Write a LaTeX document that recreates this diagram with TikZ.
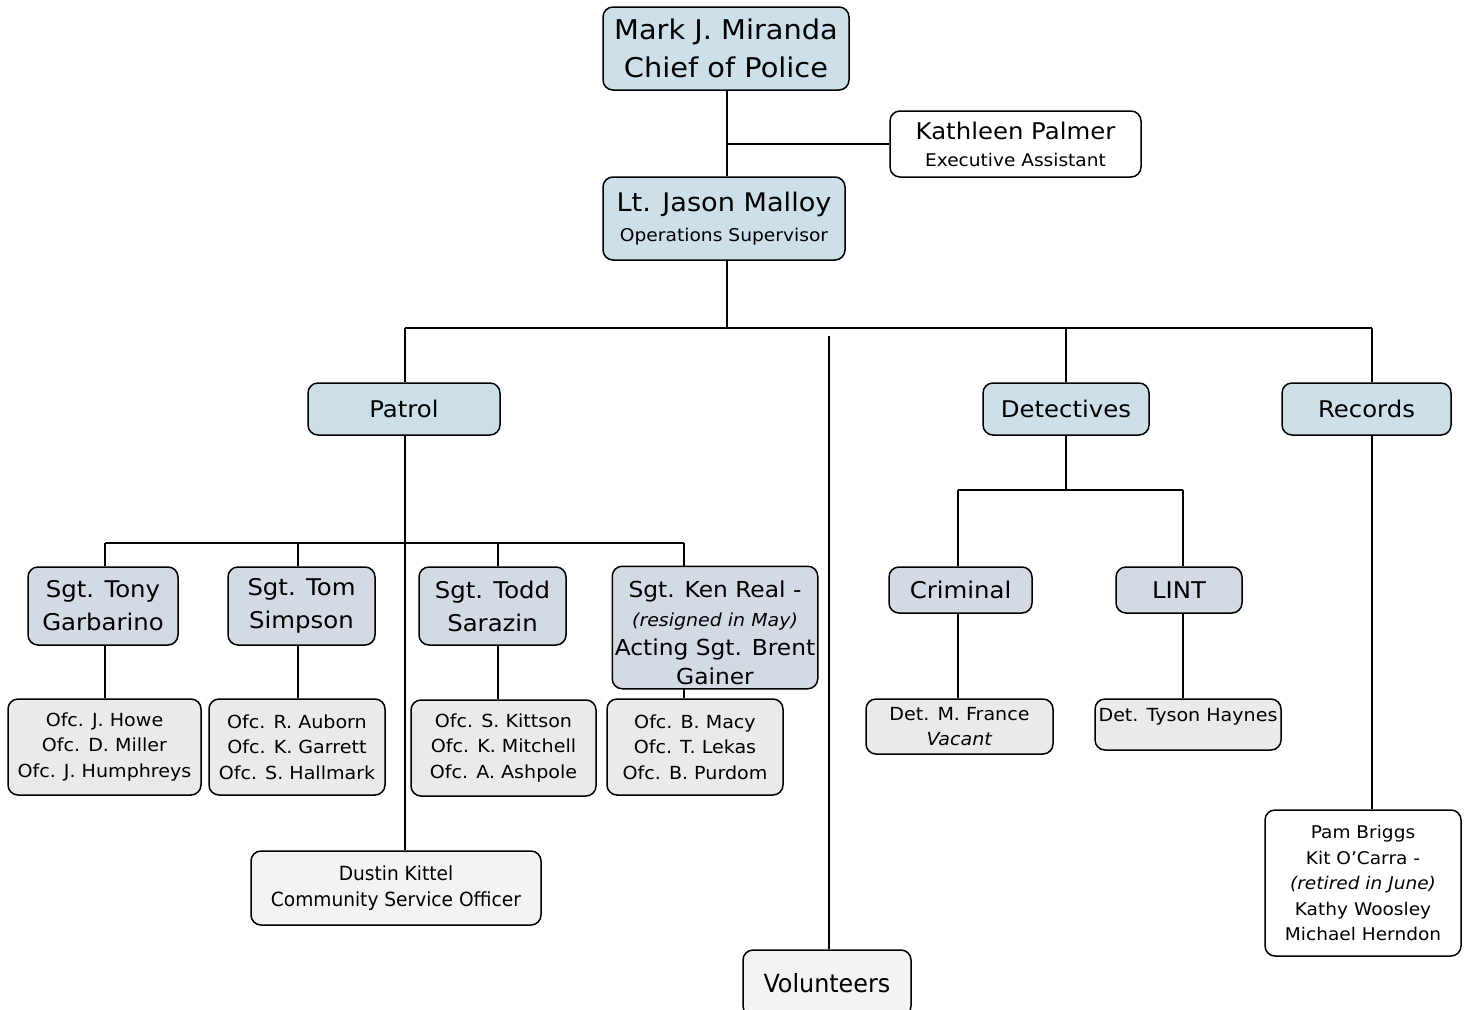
\documentclass[tikz,border=0pt]{standalone}
\usepackage{fontspec}
\setmainfont[FakeStretch=1.06]{DejaVu Sans}
\newfontfamily\condfont[FakeStretch=1.06]{DejaVu Sans Condensed}
\definecolor{topblue}{RGB}{205,223,233}
\definecolor{sgtgrey}{RGB}{211,218,227}
\definecolor{offgrey}{RGB}{234,234,234}
\definecolor{lightgrey}{RGB}{243,243,243}
\tikzset{
  box/.style={draw=black, line width=1.5pt, rounded corners=10pt, inner sep=0pt, align=center, text=black},
  topbox/.style={box, fill=topblue},
  sgtbox/.style={box, fill=sgtgrey},
  offbox/.style={box, fill=offgrey},
  whitebox/.style={box, fill=white},
  lgbox/.style={box, fill=lightgrey},
  wire/.style={line width=1.5pt},
  big/.style={font=\fontsize{27.2}{38}\selectfont},
  mid/.style={font=\fontsize{23}{33}\selectfont},
  small/.style={font=\fontsize{18}{25.5}\selectfont},
}
\begin{document}
\begin{tikzpicture}[x=1pt,y=-1pt]
\useasboundingbox[fill=white] (0,0) rectangle (1466,1009);
% top
\node[topbox, big, minimum width=246, minimum height=83] (chief) at (726,48.5) {Mark J. Miranda\\Chief of Police};
\node[whitebox, font=\fontsize{17.5}{27}\selectfont, minimum width=251, minimum height=66] (kat) at (1015.5,144)
  {{\fontsize{23}{23}\selectfont Kathleen Palmer}\\{\fontsize{17.5}{17.5}\selectfont Executive Assistant}};
\node[topbox, font=\fontsize{17.6}{30}\selectfont, minimum width=242, minimum height=83] (lt) at (724,218.5)
  {{\fontsize{25.6}{25.6}\selectfont Lt. Jason Malloy}\\Operations Supervisor};
% second level
\node[topbox, mid, minimum width=192, minimum height=52] (patrol) at (404,409) {Patrol};
\node[topbox, mid, minimum width=166, minimum height=52] (det) at (1066,409) {Detectives};
\node[topbox, mid, minimum width=169, minimum height=52] (rec) at (1366.5,409) {Records};
% sergeants
\node[sgtbox, mid, minimum width=150, minimum height=78] (tony) at (103,606) {Sgt. Tony\\Garbarino};
\node[sgtbox, mid, minimum width=147, minimum height=78] (tom) at (301.5,606) {Sgt. Tom\\Simpson};
\node[sgtbox, mid, minimum width=147, minimum height=78] (todd) at (492.5,606) {Sgt. Todd\\Sarazin};
\node[sgtbox, draw=none, minimum width=204, minimum height=121] (ken) at (715,627.5) {};
\begin{scope}
\clip[rounded corners=10pt] (ken.north west) rectangle (ken.south east);
\node[align=center, inner sep=0pt, font=\fontsize{22}{29}\selectfont] (kentext) at (715,633)
  {Sgt. Ken Real -\\{\fontsize{17.9}{29}\selectfont\itshape (resigned in May)}\\Acting Sgt. Brent\\Gainer};
\end{scope}
\draw[line width=1.5pt, rounded corners=10pt] (ken.north west) rectangle (ken.south east);
% officers
\node[offbox, small, minimum width=193, minimum height=96] (howe) at (104.5,747) {Ofc. J. Howe\\Ofc. D. Miller\\Ofc. J. Humphreys};
\node[offbox, small, minimum width=176, minimum height=96] (aub) at (297,747) {Ofc. R. Auborn\\Ofc. K. Garrett\\Ofc. S. Hallmark};
\node[offbox, small, minimum width=185, minimum height=96] (kit) at (503.5,748) {Ofc. S. Kittson\\Ofc. K. Mitchell\\Ofc. A. Ashpole};
\node[offbox, small, minimum width=176, minimum height=96] (macy) at (695,747) {Ofc. B. Macy\\Ofc. T. Lekas\\Ofc. B. Purdom};
\node[lgbox, font=\condfont\fontsize{19.5}{26}\selectfont, minimum width=290, minimum height=74] (dustin) at (396,888) {Dustin Kittel\\Community Service Officer};
\node[lgbox, font=\condfont\fontsize{25}{26}\selectfont, minimum width=168, minimum height=66] (vol) at (827,983) {Volunteers};
% detectives
\node[sgtbox, mid, minimum width=143, minimum height=46] (crim) at (960.5,590) {Criminal};
\node[sgtbox, mid, minimum width=126, minimum height=46] (lint) at (1179,590) {LINT};
\node[offbox, small, minimum width=187, minimum height=55] (france) at (959.5,726.5) {Det. M. France\\\textit{Vacant}};
\node[offbox, small, minimum width=186, minimum height=51] (tyson) at (1188,724.5) {Det. Tyson Haynes\\[-7pt]~};
% records
\node[whitebox, font=\fontsize{17.5}{25.5}\selectfont, minimum width=196, minimum height=146] (pam) at (1363,883)
  {Pam Briggs\\Kit O’Carra -\\\textit{(retired in June)}\\Kathy Woosley\\Michael Herndon};
% connector x positions and bars
\coordinate (bar1) at (0,328);
\coordinate (bar2) at (0,543);
\coordinate (bar3) at (0,490);
\coordinate (trunkx) at (727,0);
\coordinate (patx) at (405,0);
\coordinate (tonyx) at (105,0);
\coordinate (tomx) at (298,0);
\coordinate (toddx) at (498,0);
\coordinate (kenx) at (684,0);
\coordinate (crimx) at (958,0);
\coordinate (lintx) at (1183,0);
\coordinate (recx) at (1372,0);
\coordinate (voltop) at (829,336);
% connectors
\draw[wire] (trunkx |- chief.south) -- (trunkx |- lt.north);
\draw[wire] (trunkx |- kat.west) -- (kat.west);
\draw[wire] (trunkx |- lt.south) -- (trunkx |- bar1);
\draw[wire] (patx |- bar1) -- (recx |- bar1);
\draw[wire] (patx |- patrol.north) -- (patx |- bar1);
\draw[wire] (det.north) -- (det.north |- bar1);
\draw[wire] (recx |- rec.north) -- (recx |- bar1);
\draw[wire] (voltop) -- (voltop |- vol.north);
\draw[wire] (patx |- patrol.south) -- (patx |- dustin.north);
\draw[wire] (tonyx |- bar2) -- (kenx |- bar2);
\draw[wire] (tonyx |- tony.north) -- (tonyx |- bar2);
\draw[wire] (tomx |- tom.north) -- (tomx |- bar2);
\draw[wire] (toddx |- todd.north) -- (toddx |- bar2);
\draw[wire] (kenx |- ken.north) -- (kenx |- bar2);
\draw[wire] (tonyx |- tony.south) -- (tonyx |- howe.north);
\draw[wire] (tomx |- tom.south) -- (tomx |- aub.north);
\draw[wire] (toddx |- todd.south) -- (toddx |- kit.north);
\draw[wire] (kenx |- ken.south) -- (kenx |- macy.north);
\draw[wire] (det.south) -- (det.south |- bar3);
\draw[wire] (crimx |- bar3) -- (lintx |- bar3);
\draw[wire] (crimx |- crim.north) -- (crimx |- bar3);
\draw[wire] (lintx |- lint.north) -- (lintx |- bar3);
\draw[wire] (crimx |- crim.south) -- (crimx |- france.north);
\draw[wire] (lintx |- lint.south) -- (lintx |- tyson.north);
\draw[wire] (recx |- rec.south) -- (recx |- pam.north);
\end{tikzpicture}
\end{document}
